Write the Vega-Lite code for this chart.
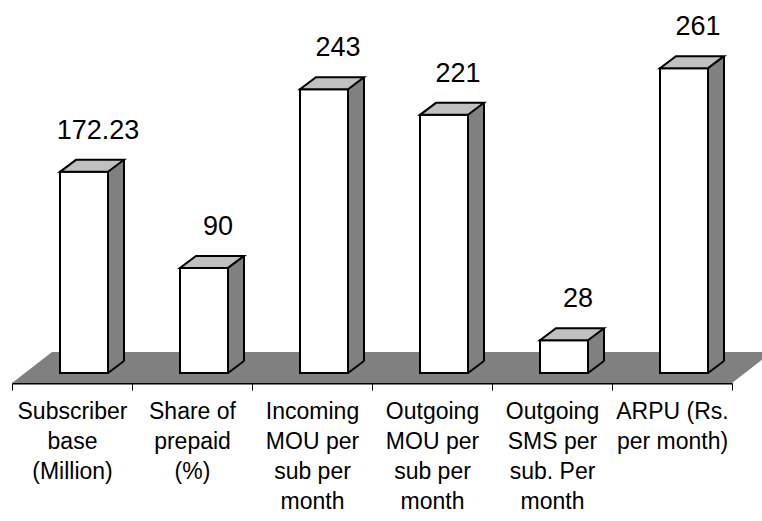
{
  "$schema": "https://vega.github.io/schema/vega-lite/v6.json",
  "width": 720,
  "height": 373,
  "autosize": "none",
  "padding": {"left": 12, "top": 0, "right": 30, "bottom": 148},
  "background": "white",
  "config": {"view": {"stroke": null}, "font": "Liberation Sans"},
  "data": {"values": [
    {"cat": "Subscriber base (Million)", "value": 172.23, "label": "172.23"},
    {"cat": "Share of prepaid (%)", "value": 90, "label": "90"},
    {"cat": "Incoming MOU per sub per month", "value": 243, "label": "243"},
    {"cat": "Outgoing MOU per sub per month", "value": 221, "label": "221"},
    {"cat": "Outgoing SMS per sub. Per month", "value": 28, "label": "28"},
    {"cat": "ARPU (Rs. per month)", "value": 261, "label": "261"}
  ]},
  "encoding": {
    "x": {
      "field": "cat", "type": "nominal", "sort": null,
      "scale": {"paddingInner": 0, "paddingOuter": 0},
      "axis": {
        "title": null, "domainColor": "black", "domainWidth": 2,
        "tickColor": "black", "tickSize": 7, "tickWidth": 1, "tickBand": "extent",
        "offset": 10, "labelAngle": 0, "labelFont": "Liberation Sans",
        "labelFontSize": 23, "labelColor": "black", "labelBaseline": "alphabetic",
        "labelPadding": 28, "labelLineHeight": 30, "labelOverlap": false, "labelLimit": 0,
        "labelExpr": "{'Subscriber base (Million)': ['Subscriber','base','(Million)'], 'Share of prepaid (%)': ['Share of','prepaid','(%)'], 'Incoming MOU per sub per month': ['Incoming','MOU per','sub per','month'], 'Outgoing MOU per sub per month': ['Outgoing','MOU per','sub per','month'], 'Outgoing SMS per sub. Per month': ['Outgoing','SMS per','sub. Per','month'], 'ARPU (Rs. per month)': ['ARPU (Rs.','per month)']}[datum.value]"
      }
    },
    "y": {"field": "value", "type": "quantitative", "scale": {"domain": [0, 319.35], "nice": false, "zero": true}, "axis": null}
  },
  "layer": [
    {
      "transform": [{"filter": "datum.cat === 'Subscriber base (Million)'"}],
      "mark": {"type": "point", "shape": "M0,10L720,10L760,-21L40,-21Z", "size": 4, "filled": true, "fill": "#808080", "strokeWidth": 0, "opacity": 1},
      "encoding": {
        "x": {"field": "cat", "type": "nominal", "bandPosition": 0},
        "y": {"datum": 0, "type": "quantitative"}
      }
    },
    {
      "mark": {"type": "bar", "width": 16, "xOffset": 44, "yOffset": -12, "fill": "#808080", "strokeWidth": 0},
      "encoding": {"y2": {"datum": 0}}
    },
    {
      "mark": {"type": "bar", "width": 48, "xOffset": 12, "fill": "white", "stroke": "black", "strokeWidth": 2},
      "encoding": {"y2": {"datum": 0}}
    },
    {
      "mark": {"type": "point", "shape": "M-12,0L36,0L52,-12L4,-12Z", "size": 4, "filled": true, "fill": "#c0c0c0", "stroke": "black", "strokeWidth": 2, "opacity": 1, "strokeJoin": "miter"}
    },
    {
      "mark": {"type": "rule", "xOffset": 52, "yOffset": -12, "y2Offset": -12, "stroke": "black", "strokeWidth": 2},
      "encoding": {"y2": {"datum": 0}}
    },
    {
      "mark": {"type": "point", "shape": "M36,0L52,-12", "size": 4, "filled": false, "stroke": "black", "strokeWidth": 2, "opacity": 1},
      "encoding": {"y": {"datum": 0, "type": "quantitative"}}
    },
    {
      "mark": {"type": "text", "dx": 26, "dy": -33, "baseline": "alphabetic", "align": "center", "font": "Liberation Sans", "fontSize": 27, "fill": "black"},
      "encoding": {"text": {"field": "label"}}
    }
  ]
}
